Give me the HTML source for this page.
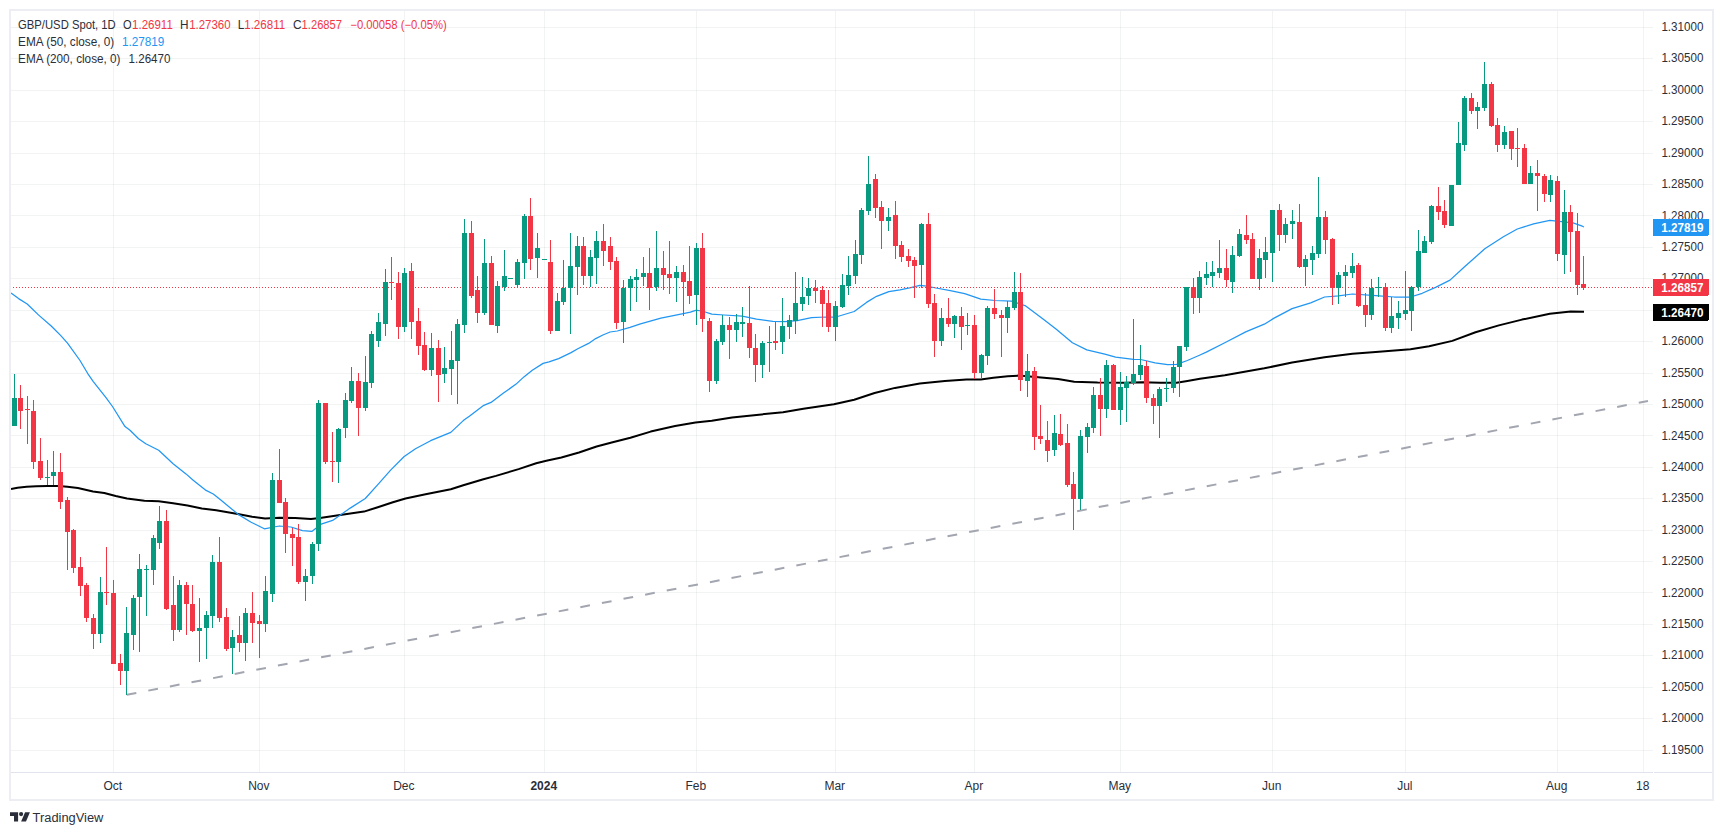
<!DOCTYPE html><html><head><meta charset="utf-8"><style>html,body{margin:0;padding:0;background:#fff;}svg{display:block}text{font-family:"Liberation Sans",sans-serif;}</style></head><body>
<svg width="1723" height="835" viewBox="0 0 1723 835" shape-rendering="crispEdges">
<rect x="0" y="0" width="1723" height="835" fill="#ffffff"/>
<rect x="11" y="27" width="1642" height="1" fill="rgba(42,46,57,0.06)"/>
<rect x="11" y="58" width="1642" height="1" fill="rgba(42,46,57,0.06)"/>
<rect x="11" y="90" width="1642" height="1" fill="rgba(42,46,57,0.06)"/>
<rect x="11" y="121" width="1642" height="1" fill="rgba(42,46,57,0.06)"/>
<rect x="11" y="153" width="1642" height="1" fill="rgba(42,46,57,0.06)"/>
<rect x="11" y="184" width="1642" height="1" fill="rgba(42,46,57,0.06)"/>
<rect x="11" y="215" width="1642" height="1" fill="rgba(42,46,57,0.06)"/>
<rect x="11" y="247" width="1642" height="1" fill="rgba(42,46,57,0.06)"/>
<rect x="11" y="278" width="1642" height="1" fill="rgba(42,46,57,0.06)"/>
<rect x="11" y="310" width="1642" height="1" fill="rgba(42,46,57,0.06)"/>
<rect x="11" y="341" width="1642" height="1" fill="rgba(42,46,57,0.06)"/>
<rect x="11" y="373" width="1642" height="1" fill="rgba(42,46,57,0.06)"/>
<rect x="11" y="404" width="1642" height="1" fill="rgba(42,46,57,0.06)"/>
<rect x="11" y="435" width="1642" height="1" fill="rgba(42,46,57,0.06)"/>
<rect x="11" y="467" width="1642" height="1" fill="rgba(42,46,57,0.06)"/>
<rect x="11" y="498" width="1642" height="1" fill="rgba(42,46,57,0.06)"/>
<rect x="11" y="530" width="1642" height="1" fill="rgba(42,46,57,0.06)"/>
<rect x="11" y="561" width="1642" height="1" fill="rgba(42,46,57,0.06)"/>
<rect x="11" y="592" width="1642" height="1" fill="rgba(42,46,57,0.06)"/>
<rect x="11" y="624" width="1642" height="1" fill="rgba(42,46,57,0.06)"/>
<rect x="11" y="655" width="1642" height="1" fill="rgba(42,46,57,0.06)"/>
<rect x="11" y="687" width="1642" height="1" fill="rgba(42,46,57,0.06)"/>
<rect x="11" y="718" width="1642" height="1" fill="rgba(42,46,57,0.06)"/>
<rect x="11" y="750" width="1642" height="1" fill="rgba(42,46,57,0.06)"/>
<rect x="113" y="11" width="1" height="761" fill="rgba(42,46,57,0.06)"/>
<rect x="259" y="11" width="1" height="761" fill="rgba(42,46,57,0.06)"/>
<rect x="404" y="11" width="1" height="761" fill="rgba(42,46,57,0.06)"/>
<rect x="544" y="11" width="1" height="761" fill="rgba(42,46,57,0.06)"/>
<rect x="696" y="11" width="1" height="761" fill="rgba(42,46,57,0.06)"/>
<rect x="835" y="11" width="1" height="761" fill="rgba(42,46,57,0.06)"/>
<rect x="974" y="11" width="1" height="761" fill="rgba(42,46,57,0.06)"/>
<rect x="1120" y="11" width="1" height="761" fill="rgba(42,46,57,0.06)"/>
<rect x="1272" y="11" width="1" height="761" fill="rgba(42,46,57,0.06)"/>
<rect x="1405" y="11" width="1" height="761" fill="rgba(42,46,57,0.06)"/>
<rect x="1557" y="11" width="1" height="761" fill="rgba(42,46,57,0.06)"/>
<rect x="1643" y="11" width="1" height="761" fill="rgba(42,46,57,0.06)"/>
<rect x="10" y="10" width="1703" height="790" fill="none" stroke="#eceef3" stroke-width="2"/>
<rect x="11" y="772" width="1642" height="1" fill="#e0e3eb"/>
<rect x="1654" y="772" width="58" height="1" fill="#e0e3eb"/>
<defs><clipPath id="pc"><rect x="11" y="11" width="1642" height="761"/></clipPath></defs>
<g clip-path="url(#pc)">
<line x1="126.7" y1="694.8" x2="1648.0" y2="401.0" stroke="#a3a6b0" stroke-width="2" stroke-dasharray="9.8 12.2" shape-rendering="auto"/>
<polyline points="11.0,488.9 17.5,487.7 26.6,486.8 36.4,486.2 47.7,486.0 58.3,486.1 67.4,486.8 77.9,488.1 93.0,491.5 104.3,493.0 115.7,496.0 127.0,498.5 144.4,500.7 158.7,501.2 173.1,503.3 187.5,505.5 201.8,508.4 216.2,510.2 237.8,514.1 252.1,516.7 265.1,518.4 279.4,517.7 295.2,518.1 311.0,519.1 320.0,517.9 340.1,514.9 364.0,511.6 377.8,507.3 392.9,502.3 405.5,498.5 425.6,494.3 450.8,489.2 463.3,485.2 483.4,479.2 496.0,475.9 518.6,469.1 536.2,463.3 546.3,460.8 561.4,457.5 579.0,452.5 596.6,446.5 611.7,442.5 630.4,437.7 650.7,431.6 675.1,426.1 695.5,422.5 711.8,420.8 732.1,417.4 756.5,414.9 783.0,412.3 803.4,408.8 833.9,404.2 854.2,399.7 874.6,393.0 895.0,387.9 919.8,383.5 944.9,381.0 966.5,379.6 980.8,379.6 993.4,377.8 1007.8,376.3 1018.6,375.6 1038.3,377.2 1058.1,379.0 1074.2,381.7 1097.6,382.6 1124.5,382.8 1142.5,382.3 1160.5,382.8 1176.6,382.8 1187.4,381.0 1200.0,378.7 1224.8,375.3 1264.3,368.3 1292.1,362.5 1324.6,357.2 1352.5,353.7 1375.7,352.1 1410.5,349.3 1429.1,346.3 1452.3,340.9 1475.5,332.3 1498.8,325.4 1522.0,319.6 1549.8,313.8 1570.7,311.4 1584.0,311.8" fill="none" stroke="#000" stroke-width="2" stroke-linejoin="round" shape-rendering="auto"/>
<polyline points="11.0,293.0 18.6,298.6 27.2,304.0 38.7,315.1 51.2,326.0 60.8,335.6 67.5,343.2 80.0,360.5 87.6,373.3 93.3,381.6 105.8,397.3 112.5,406.5 125.0,426.6 130.0,430.3 138.6,438.7 145.8,443.7 158.7,450.2 173.1,463.8 186.0,473.9 193.2,480.3 206.1,490.4 213.3,494.0 220.5,499.7 237.8,514.1 250.7,522.0 264.3,528.8 279.4,526.0 290.9,527.0 302.4,530.6 311.8,531.4 321.1,524.2 332.6,520.4 350.2,508.1 365.3,498.5 377.8,484.7 390.4,470.4 404.2,456.5 415.5,448.7 430.6,440.7 450.8,432.4 463.3,420.6 470.0,415.8 483.8,405.3 491.0,402.4 503.5,393.1 516.1,384.1 523.9,376.9 532.3,370.3 543.1,363.4 549.0,361.9 558.6,358.6 570.6,352.9 577.8,348.7 588.6,343.4 595.7,338.6 602.9,335.0 610.1,332.0 617.3,331.0 630.0,327.4 640.5,323.8 660.9,318.1 683.3,313.6 690.4,312.2 696.5,310.1 703.6,311.5 711.8,314.2 724.0,315.0 742.3,316.2 756.5,319.1 772.8,321.3 785.0,321.7 797.3,320.7 811.5,317.7 825.8,317.0 835.9,317.0 854.2,311.5 866.5,302.4 876.6,296.3 888.8,291.6 900.0,289.8 910.8,287.6 919.8,285.3 926.9,286.2 935.9,288.0 950.3,290.7 964.7,293.7 980.8,299.1 995.2,300.5 1011.4,301.1 1025.7,305.9 1043.7,319.4 1056.3,329.3 1072.4,342.7 1086.8,349.9 1104.8,354.1 1115.6,357.1 1133.5,359.3 1140.7,359.5 1155.1,362.9 1167.6,364.7 1176.6,364.3 1187.4,360.5 1200.0,355.0 1206.3,352.1 1224.8,342.8 1245.7,331.9 1264.3,324.2 1273.6,318.4 1292.1,308.6 1310.7,302.8 1324.6,297.0 1338.6,295.9 1352.5,294.0 1375.7,295.6 1394.3,297.0 1410.5,297.0 1422.2,293.3 1436.1,287.1 1450.0,280.1 1464.0,267.3 1484.8,248.8 1503.4,236.7 1517.3,229.0 1533.6,223.9 1549.8,220.4 1561.4,221.6 1573.0,222.8 1582.3,226.2 1584.0,227.0" fill="none" stroke="#2196f3" stroke-width="1.25" stroke-linejoin="round" shape-rendering="auto"/>
<line x1="10" y1="287.5" x2="1653" y2="287.5" stroke="#f23645" stroke-width="1" stroke-dasharray="1 2"/>
<rect x="14" y="374" width="1" height="52" fill="#089981"/>
<rect x="12" y="398" width="5" height="28" fill="#089981"/>
<rect x="20" y="385" width="1" height="44" fill="#f23645"/>
<rect x="18" y="398" width="5" height="13" fill="#f23645"/>
<rect x="27" y="396" width="1" height="48" fill="#f23645"/>
<rect x="25" y="409" width="5" height="1" fill="#f23645"/>
<rect x="33" y="400" width="1" height="69" fill="#f23645"/>
<rect x="31" y="411" width="5" height="51" fill="#f23645"/>
<rect x="40" y="438" width="1" height="42" fill="#f23645"/>
<rect x="38" y="461" width="5" height="17" fill="#f23645"/>
<rect x="47" y="460" width="1" height="25" fill="#089981"/>
<rect x="45" y="477" width="5" height="1" fill="#089981"/>
<rect x="53" y="451" width="1" height="34" fill="#089981"/>
<rect x="51" y="472" width="5" height="4" fill="#089981"/>
<rect x="60" y="453" width="1" height="56" fill="#f23645"/>
<rect x="58" y="472" width="5" height="30" fill="#f23645"/>
<rect x="67" y="497" width="1" height="73" fill="#f23645"/>
<rect x="65" y="500" width="5" height="32" fill="#f23645"/>
<rect x="73" y="529" width="1" height="44" fill="#f23645"/>
<rect x="71" y="530" width="5" height="38" fill="#f23645"/>
<rect x="80" y="557" width="1" height="39" fill="#f23645"/>
<rect x="78" y="567" width="5" height="19" fill="#f23645"/>
<rect x="86" y="583" width="1" height="39" fill="#f23645"/>
<rect x="84" y="585" width="5" height="33" fill="#f23645"/>
<rect x="93" y="614" width="1" height="35" fill="#f23645"/>
<rect x="91" y="618" width="5" height="16" fill="#f23645"/>
<rect x="100" y="577" width="1" height="66" fill="#089981"/>
<rect x="98" y="592" width="5" height="42" fill="#089981"/>
<rect x="106" y="547" width="1" height="58" fill="#f23645"/>
<rect x="104" y="592" width="5" height="1" fill="#f23645"/>
<rect x="113" y="580" width="1" height="84" fill="#f23645"/>
<rect x="111" y="593" width="5" height="71" fill="#f23645"/>
<rect x="120" y="654" width="1" height="31" fill="#f23645"/>
<rect x="118" y="663" width="5" height="8" fill="#f23645"/>
<rect x="126" y="607" width="1" height="88" fill="#089981"/>
<rect x="124" y="633" width="5" height="38" fill="#089981"/>
<rect x="133" y="595" width="1" height="55" fill="#089981"/>
<rect x="131" y="598" width="5" height="37" fill="#089981"/>
<rect x="139" y="554" width="1" height="98" fill="#089981"/>
<rect x="137" y="569" width="5" height="28" fill="#089981"/>
<rect x="146" y="565" width="1" height="51" fill="#089981"/>
<rect x="144" y="569" width="5" height="1" fill="#089981"/>
<rect x="153" y="535" width="1" height="50" fill="#089981"/>
<rect x="151" y="538" width="5" height="32" fill="#089981"/>
<rect x="159" y="506" width="1" height="43" fill="#089981"/>
<rect x="157" y="521" width="5" height="22" fill="#089981"/>
<rect x="166" y="510" width="1" height="100" fill="#f23645"/>
<rect x="164" y="521" width="5" height="88" fill="#f23645"/>
<rect x="173" y="576" width="1" height="65" fill="#f23645"/>
<rect x="171" y="605" width="5" height="25" fill="#f23645"/>
<rect x="179" y="580" width="1" height="52" fill="#089981"/>
<rect x="177" y="585" width="5" height="45" fill="#089981"/>
<rect x="186" y="582" width="1" height="53" fill="#f23645"/>
<rect x="184" y="585" width="5" height="19" fill="#f23645"/>
<rect x="192" y="585" width="1" height="47" fill="#f23645"/>
<rect x="190" y="604" width="5" height="27" fill="#f23645"/>
<rect x="199" y="598" width="1" height="64" fill="#089981"/>
<rect x="197" y="628" width="5" height="3" fill="#089981"/>
<rect x="206" y="611" width="1" height="48" fill="#089981"/>
<rect x="204" y="615" width="5" height="13" fill="#089981"/>
<rect x="212" y="555" width="1" height="73" fill="#089981"/>
<rect x="210" y="562" width="5" height="54" fill="#089981"/>
<rect x="219" y="537" width="1" height="85" fill="#f23645"/>
<rect x="217" y="562" width="5" height="56" fill="#f23645"/>
<rect x="226" y="608" width="1" height="43" fill="#f23645"/>
<rect x="224" y="617" width="5" height="32" fill="#f23645"/>
<rect x="232" y="630" width="1" height="44" fill="#089981"/>
<rect x="230" y="637" width="5" height="11" fill="#089981"/>
<rect x="239" y="616" width="1" height="36" fill="#f23645"/>
<rect x="237" y="635" width="5" height="8" fill="#f23645"/>
<rect x="245" y="608" width="1" height="53" fill="#089981"/>
<rect x="243" y="613" width="5" height="30" fill="#089981"/>
<rect x="252" y="592" width="1" height="51" fill="#f23645"/>
<rect x="250" y="613" width="5" height="10" fill="#f23645"/>
<rect x="259" y="615" width="1" height="43" fill="#f23645"/>
<rect x="257" y="621" width="5" height="3" fill="#f23645"/>
<rect x="265" y="576" width="1" height="56" fill="#089981"/>
<rect x="263" y="591" width="5" height="33" fill="#089981"/>
<rect x="272" y="473" width="1" height="129" fill="#089981"/>
<rect x="270" y="480" width="5" height="114" fill="#089981"/>
<rect x="279" y="449" width="1" height="54" fill="#f23645"/>
<rect x="277" y="480" width="5" height="23" fill="#f23645"/>
<rect x="285" y="498" width="1" height="55" fill="#f23645"/>
<rect x="283" y="502" width="5" height="32" fill="#f23645"/>
<rect x="292" y="528" width="1" height="38" fill="#f23645"/>
<rect x="290" y="534" width="5" height="4" fill="#f23645"/>
<rect x="298" y="524" width="1" height="60" fill="#f23645"/>
<rect x="296" y="537" width="5" height="45" fill="#f23645"/>
<rect x="305" y="569" width="1" height="32" fill="#089981"/>
<rect x="303" y="576" width="5" height="6" fill="#089981"/>
<rect x="312" y="542" width="1" height="42" fill="#089981"/>
<rect x="310" y="544" width="5" height="32" fill="#089981"/>
<rect x="318" y="400" width="1" height="151" fill="#089981"/>
<rect x="316" y="403" width="5" height="141" fill="#089981"/>
<rect x="325" y="403" width="1" height="61" fill="#f23645"/>
<rect x="323" y="403" width="5" height="59" fill="#f23645"/>
<rect x="332" y="432" width="1" height="50" fill="#f23645"/>
<rect x="330" y="461" width="5" height="1" fill="#f23645"/>
<rect x="338" y="428" width="1" height="55" fill="#089981"/>
<rect x="336" y="429" width="5" height="33" fill="#089981"/>
<rect x="345" y="393" width="1" height="45" fill="#089981"/>
<rect x="343" y="400" width="5" height="28" fill="#089981"/>
<rect x="351" y="367" width="1" height="36" fill="#089981"/>
<rect x="349" y="381" width="5" height="20" fill="#089981"/>
<rect x="358" y="373" width="1" height="63" fill="#f23645"/>
<rect x="356" y="381" width="5" height="27" fill="#f23645"/>
<rect x="365" y="356" width="1" height="55" fill="#089981"/>
<rect x="363" y="382" width="5" height="26" fill="#089981"/>
<rect x="371" y="331" width="1" height="57" fill="#089981"/>
<rect x="369" y="334" width="5" height="49" fill="#089981"/>
<rect x="378" y="313" width="1" height="34" fill="#089981"/>
<rect x="376" y="322" width="5" height="19" fill="#089981"/>
<rect x="385" y="269" width="1" height="67" fill="#089981"/>
<rect x="383" y="282" width="5" height="42" fill="#089981"/>
<rect x="391" y="257" width="1" height="43" fill="#f23645"/>
<rect x="389" y="282" width="5" height="1" fill="#f23645"/>
<rect x="398" y="272" width="1" height="67" fill="#f23645"/>
<rect x="396" y="283" width="5" height="44" fill="#f23645"/>
<rect x="404" y="268" width="1" height="64" fill="#089981"/>
<rect x="402" y="273" width="5" height="54" fill="#089981"/>
<rect x="411" y="263" width="1" height="76" fill="#f23645"/>
<rect x="409" y="271" width="5" height="51" fill="#f23645"/>
<rect x="418" y="308" width="1" height="47" fill="#f23645"/>
<rect x="416" y="321" width="5" height="25" fill="#f23645"/>
<rect x="424" y="332" width="1" height="39" fill="#f23645"/>
<rect x="422" y="345" width="5" height="25" fill="#f23645"/>
<rect x="431" y="333" width="1" height="43" fill="#089981"/>
<rect x="429" y="348" width="5" height="22" fill="#089981"/>
<rect x="438" y="340" width="1" height="62" fill="#f23645"/>
<rect x="436" y="348" width="5" height="27" fill="#f23645"/>
<rect x="444" y="347" width="1" height="36" fill="#089981"/>
<rect x="442" y="368" width="5" height="6" fill="#089981"/>
<rect x="451" y="331" width="1" height="64" fill="#089981"/>
<rect x="449" y="360" width="5" height="9" fill="#089981"/>
<rect x="457" y="319" width="1" height="85" fill="#089981"/>
<rect x="455" y="324" width="5" height="37" fill="#089981"/>
<rect x="464" y="219" width="1" height="114" fill="#089981"/>
<rect x="462" y="233" width="5" height="92" fill="#089981"/>
<rect x="471" y="221" width="1" height="77" fill="#f23645"/>
<rect x="469" y="233" width="5" height="63" fill="#f23645"/>
<rect x="477" y="276" width="1" height="47" fill="#f23645"/>
<rect x="475" y="290" width="5" height="23" fill="#f23645"/>
<rect x="484" y="239" width="1" height="76" fill="#089981"/>
<rect x="482" y="263" width="5" height="50" fill="#089981"/>
<rect x="491" y="256" width="1" height="69" fill="#f23645"/>
<rect x="489" y="263" width="5" height="62" fill="#f23645"/>
<rect x="497" y="281" width="1" height="52" fill="#089981"/>
<rect x="495" y="286" width="5" height="40" fill="#089981"/>
<rect x="504" y="250" width="1" height="41" fill="#089981"/>
<rect x="502" y="276" width="5" height="11" fill="#089981"/>
<rect x="510" y="278" width="1" height="1" fill="#089981"/>
<rect x="508" y="278" width="5" height="1" fill="#089981"/>
<rect x="517" y="259" width="1" height="29" fill="#089981"/>
<rect x="515" y="262" width="5" height="23" fill="#089981"/>
<rect x="524" y="214" width="1" height="65" fill="#089981"/>
<rect x="522" y="216" width="5" height="47" fill="#089981"/>
<rect x="530" y="198" width="1" height="72" fill="#f23645"/>
<rect x="528" y="216" width="5" height="43" fill="#f23645"/>
<rect x="537" y="233" width="1" height="45" fill="#089981"/>
<rect x="535" y="248" width="5" height="10" fill="#089981"/>
<rect x="544" y="259" width="1" height="1" fill="#089981"/>
<rect x="542" y="259" width="5" height="1" fill="#089981"/>
<rect x="550" y="240" width="1" height="94" fill="#f23645"/>
<rect x="548" y="262" width="5" height="69" fill="#f23645"/>
<rect x="557" y="293" width="1" height="38" fill="#089981"/>
<rect x="555" y="301" width="5" height="30" fill="#089981"/>
<rect x="563" y="260" width="1" height="45" fill="#089981"/>
<rect x="561" y="288" width="5" height="14" fill="#089981"/>
<rect x="570" y="233" width="1" height="101" fill="#089981"/>
<rect x="568" y="266" width="5" height="22" fill="#089981"/>
<rect x="577" y="236" width="1" height="59" fill="#089981"/>
<rect x="575" y="246" width="5" height="21" fill="#089981"/>
<rect x="583" y="237" width="1" height="48" fill="#f23645"/>
<rect x="581" y="246" width="5" height="30" fill="#f23645"/>
<rect x="590" y="250" width="1" height="37" fill="#089981"/>
<rect x="588" y="257" width="5" height="19" fill="#089981"/>
<rect x="596" y="231" width="1" height="53" fill="#089981"/>
<rect x="594" y="241" width="5" height="17" fill="#089981"/>
<rect x="603" y="224" width="1" height="42" fill="#f23645"/>
<rect x="601" y="241" width="5" height="10" fill="#f23645"/>
<rect x="610" y="237" width="1" height="33" fill="#f23645"/>
<rect x="608" y="246" width="5" height="16" fill="#f23645"/>
<rect x="616" y="257" width="1" height="72" fill="#f23645"/>
<rect x="614" y="261" width="5" height="62" fill="#f23645"/>
<rect x="623" y="280" width="1" height="63" fill="#089981"/>
<rect x="621" y="288" width="5" height="34" fill="#089981"/>
<rect x="630" y="276" width="1" height="35" fill="#089981"/>
<rect x="628" y="279" width="5" height="9" fill="#089981"/>
<rect x="636" y="269" width="1" height="33" fill="#089981"/>
<rect x="634" y="277" width="5" height="3" fill="#089981"/>
<rect x="643" y="257" width="1" height="29" fill="#089981"/>
<rect x="641" y="273" width="5" height="4" fill="#089981"/>
<rect x="649" y="248" width="1" height="62" fill="#f23645"/>
<rect x="647" y="273" width="5" height="15" fill="#f23645"/>
<rect x="656" y="231" width="1" height="60" fill="#089981"/>
<rect x="654" y="268" width="5" height="19" fill="#089981"/>
<rect x="663" y="251" width="1" height="39" fill="#f23645"/>
<rect x="661" y="268" width="5" height="7" fill="#f23645"/>
<rect x="669" y="241" width="1" height="53" fill="#f23645"/>
<rect x="667" y="274" width="5" height="4" fill="#f23645"/>
<rect x="676" y="266" width="1" height="36" fill="#089981"/>
<rect x="674" y="272" width="5" height="6" fill="#089981"/>
<rect x="683" y="265" width="1" height="51" fill="#f23645"/>
<rect x="681" y="272" width="5" height="10" fill="#f23645"/>
<rect x="689" y="246" width="1" height="58" fill="#f23645"/>
<rect x="687" y="281" width="5" height="15" fill="#f23645"/>
<rect x="696" y="243" width="1" height="82" fill="#089981"/>
<rect x="694" y="248" width="5" height="47" fill="#089981"/>
<rect x="702" y="233" width="1" height="99" fill="#f23645"/>
<rect x="700" y="248" width="5" height="71" fill="#f23645"/>
<rect x="709" y="318" width="1" height="74" fill="#f23645"/>
<rect x="707" y="321" width="5" height="60" fill="#f23645"/>
<rect x="716" y="339" width="1" height="45" fill="#089981"/>
<rect x="714" y="341" width="5" height="40" fill="#089981"/>
<rect x="722" y="315" width="1" height="30" fill="#089981"/>
<rect x="720" y="325" width="5" height="17" fill="#089981"/>
<rect x="729" y="317" width="1" height="42" fill="#f23645"/>
<rect x="727" y="325" width="5" height="5" fill="#f23645"/>
<rect x="736" y="314" width="1" height="28" fill="#089981"/>
<rect x="734" y="322" width="5" height="8" fill="#089981"/>
<rect x="742" y="307" width="1" height="30" fill="#089981"/>
<rect x="740" y="322" width="5" height="2" fill="#089981"/>
<rect x="749" y="286" width="1" height="72" fill="#f23645"/>
<rect x="747" y="323" width="5" height="25" fill="#f23645"/>
<rect x="755" y="334" width="1" height="48" fill="#f23645"/>
<rect x="753" y="348" width="5" height="17" fill="#f23645"/>
<rect x="762" y="341" width="1" height="37" fill="#089981"/>
<rect x="760" y="343" width="5" height="22" fill="#089981"/>
<rect x="769" y="326" width="1" height="46" fill="#089981"/>
<rect x="767" y="342" width="5" height="1" fill="#089981"/>
<rect x="775" y="322" width="1" height="28" fill="#f23645"/>
<rect x="773" y="341" width="5" height="2" fill="#f23645"/>
<rect x="782" y="298" width="1" height="56" fill="#089981"/>
<rect x="780" y="326" width="5" height="16" fill="#089981"/>
<rect x="789" y="315" width="1" height="24" fill="#089981"/>
<rect x="787" y="320" width="5" height="7" fill="#089981"/>
<rect x="795" y="272" width="1" height="62" fill="#089981"/>
<rect x="793" y="303" width="5" height="18" fill="#089981"/>
<rect x="802" y="277" width="1" height="34" fill="#089981"/>
<rect x="800" y="297" width="5" height="7" fill="#089981"/>
<rect x="808" y="278" width="1" height="27" fill="#089981"/>
<rect x="806" y="288" width="5" height="8" fill="#089981"/>
<rect x="815" y="280" width="1" height="23" fill="#f23645"/>
<rect x="813" y="288" width="5" height="3" fill="#f23645"/>
<rect x="822" y="286" width="1" height="41" fill="#f23645"/>
<rect x="820" y="290" width="5" height="14" fill="#f23645"/>
<rect x="828" y="290" width="1" height="42" fill="#f23645"/>
<rect x="826" y="303" width="5" height="24" fill="#f23645"/>
<rect x="835" y="301" width="1" height="40" fill="#089981"/>
<rect x="833" y="306" width="5" height="21" fill="#089981"/>
<rect x="842" y="274" width="1" height="34" fill="#089981"/>
<rect x="840" y="285" width="5" height="22" fill="#089981"/>
<rect x="848" y="256" width="1" height="39" fill="#089981"/>
<rect x="846" y="275" width="5" height="11" fill="#089981"/>
<rect x="855" y="240" width="1" height="44" fill="#089981"/>
<rect x="853" y="254" width="5" height="22" fill="#089981"/>
<rect x="861" y="208" width="1" height="56" fill="#089981"/>
<rect x="859" y="210" width="5" height="45" fill="#089981"/>
<rect x="868" y="156" width="1" height="59" fill="#089981"/>
<rect x="866" y="184" width="5" height="27" fill="#089981"/>
<rect x="875" y="174" width="1" height="44" fill="#f23645"/>
<rect x="873" y="179" width="5" height="29" fill="#f23645"/>
<rect x="881" y="201" width="1" height="48" fill="#f23645"/>
<rect x="879" y="207" width="5" height="14" fill="#f23645"/>
<rect x="888" y="208" width="1" height="23" fill="#089981"/>
<rect x="886" y="217" width="5" height="4" fill="#089981"/>
<rect x="895" y="201" width="1" height="58" fill="#f23645"/>
<rect x="893" y="215" width="5" height="31" fill="#f23645"/>
<rect x="901" y="241" width="1" height="21" fill="#f23645"/>
<rect x="899" y="245" width="5" height="12" fill="#f23645"/>
<rect x="908" y="249" width="1" height="18" fill="#f23645"/>
<rect x="906" y="256" width="5" height="5" fill="#f23645"/>
<rect x="914" y="257" width="1" height="41" fill="#f23645"/>
<rect x="912" y="260" width="5" height="6" fill="#f23645"/>
<rect x="921" y="223" width="1" height="65" fill="#089981"/>
<rect x="919" y="224" width="5" height="41" fill="#089981"/>
<rect x="928" y="213" width="1" height="95" fill="#f23645"/>
<rect x="926" y="224" width="5" height="80" fill="#f23645"/>
<rect x="934" y="294" width="1" height="63" fill="#f23645"/>
<rect x="932" y="303" width="5" height="38" fill="#f23645"/>
<rect x="941" y="308" width="1" height="38" fill="#089981"/>
<rect x="939" y="318" width="5" height="23" fill="#089981"/>
<rect x="948" y="298" width="1" height="29" fill="#f23645"/>
<rect x="946" y="318" width="5" height="6" fill="#f23645"/>
<rect x="954" y="315" width="1" height="23" fill="#089981"/>
<rect x="952" y="316" width="5" height="8" fill="#089981"/>
<rect x="961" y="307" width="1" height="43" fill="#f23645"/>
<rect x="959" y="316" width="5" height="11" fill="#f23645"/>
<rect x="967" y="313" width="1" height="22" fill="#089981"/>
<rect x="965" y="325" width="5" height="1" fill="#089981"/>
<rect x="974" y="315" width="1" height="64" fill="#f23645"/>
<rect x="972" y="325" width="5" height="48" fill="#f23645"/>
<rect x="981" y="354" width="1" height="25" fill="#089981"/>
<rect x="979" y="355" width="5" height="18" fill="#089981"/>
<rect x="987" y="306" width="1" height="59" fill="#089981"/>
<rect x="985" y="308" width="5" height="48" fill="#089981"/>
<rect x="994" y="289" width="1" height="30" fill="#f23645"/>
<rect x="992" y="308" width="5" height="6" fill="#f23645"/>
<rect x="1001" y="310" width="1" height="47" fill="#f23645"/>
<rect x="999" y="315" width="5" height="3" fill="#f23645"/>
<rect x="1007" y="301" width="1" height="32" fill="#089981"/>
<rect x="1005" y="307" width="5" height="11" fill="#089981"/>
<rect x="1014" y="272" width="1" height="38" fill="#089981"/>
<rect x="1012" y="292" width="5" height="16" fill="#089981"/>
<rect x="1020" y="273" width="1" height="118" fill="#f23645"/>
<rect x="1018" y="292" width="5" height="88" fill="#f23645"/>
<rect x="1027" y="354" width="1" height="43" fill="#089981"/>
<rect x="1025" y="371" width="5" height="10" fill="#089981"/>
<rect x="1034" y="367" width="1" height="83" fill="#f23645"/>
<rect x="1032" y="371" width="5" height="66" fill="#f23645"/>
<rect x="1040" y="405" width="1" height="39" fill="#f23645"/>
<rect x="1038" y="436" width="5" height="3" fill="#f23645"/>
<rect x="1047" y="421" width="1" height="41" fill="#f23645"/>
<rect x="1045" y="440" width="5" height="11" fill="#f23645"/>
<rect x="1054" y="415" width="1" height="41" fill="#089981"/>
<rect x="1052" y="433" width="5" height="17" fill="#089981"/>
<rect x="1060" y="414" width="1" height="32" fill="#f23645"/>
<rect x="1058" y="434" width="5" height="11" fill="#f23645"/>
<rect x="1067" y="424" width="1" height="63" fill="#f23645"/>
<rect x="1065" y="443" width="5" height="42" fill="#f23645"/>
<rect x="1073" y="472" width="1" height="58" fill="#f23645"/>
<rect x="1071" y="484" width="5" height="15" fill="#f23645"/>
<rect x="1080" y="430" width="1" height="80" fill="#089981"/>
<rect x="1078" y="436" width="5" height="63" fill="#089981"/>
<rect x="1087" y="423" width="1" height="30" fill="#089981"/>
<rect x="1085" y="427" width="5" height="10" fill="#089981"/>
<rect x="1093" y="387" width="1" height="46" fill="#089981"/>
<rect x="1091" y="395" width="5" height="33" fill="#089981"/>
<rect x="1100" y="378" width="1" height="58" fill="#f23645"/>
<rect x="1098" y="395" width="5" height="14" fill="#f23645"/>
<rect x="1106" y="360" width="1" height="58" fill="#089981"/>
<rect x="1104" y="365" width="5" height="44" fill="#089981"/>
<rect x="1113" y="364" width="1" height="46" fill="#f23645"/>
<rect x="1111" y="365" width="5" height="45" fill="#f23645"/>
<rect x="1120" y="372" width="1" height="53" fill="#089981"/>
<rect x="1118" y="387" width="5" height="23" fill="#089981"/>
<rect x="1126" y="376" width="1" height="46" fill="#089981"/>
<rect x="1124" y="382" width="5" height="6" fill="#089981"/>
<rect x="1133" y="319" width="1" height="66" fill="#089981"/>
<rect x="1131" y="374" width="5" height="9" fill="#089981"/>
<rect x="1140" y="345" width="1" height="35" fill="#089981"/>
<rect x="1138" y="365" width="5" height="10" fill="#089981"/>
<rect x="1146" y="361" width="1" height="42" fill="#f23645"/>
<rect x="1144" y="366" width="5" height="32" fill="#f23645"/>
<rect x="1153" y="394" width="1" height="30" fill="#f23645"/>
<rect x="1151" y="398" width="5" height="8" fill="#f23645"/>
<rect x="1159" y="387" width="1" height="51" fill="#089981"/>
<rect x="1157" y="389" width="5" height="17" fill="#089981"/>
<rect x="1166" y="378" width="1" height="24" fill="#089981"/>
<rect x="1164" y="388" width="5" height="1" fill="#089981"/>
<rect x="1173" y="361" width="1" height="32" fill="#089981"/>
<rect x="1171" y="367" width="5" height="21" fill="#089981"/>
<rect x="1179" y="346" width="1" height="51" fill="#089981"/>
<rect x="1177" y="346" width="5" height="21" fill="#089981"/>
<rect x="1186" y="287" width="1" height="64" fill="#089981"/>
<rect x="1184" y="287" width="5" height="60" fill="#089981"/>
<rect x="1193" y="278" width="1" height="36" fill="#f23645"/>
<rect x="1191" y="287" width="5" height="11" fill="#f23645"/>
<rect x="1199" y="271" width="1" height="42" fill="#089981"/>
<rect x="1197" y="277" width="5" height="21" fill="#089981"/>
<rect x="1206" y="262" width="1" height="23" fill="#089981"/>
<rect x="1204" y="274" width="5" height="4" fill="#089981"/>
<rect x="1212" y="261" width="1" height="26" fill="#089981"/>
<rect x="1210" y="272" width="5" height="4" fill="#089981"/>
<rect x="1219" y="240" width="1" height="38" fill="#089981"/>
<rect x="1217" y="268" width="5" height="5" fill="#089981"/>
<rect x="1226" y="249" width="1" height="38" fill="#f23645"/>
<rect x="1224" y="268" width="5" height="12" fill="#f23645"/>
<rect x="1232" y="246" width="1" height="47" fill="#089981"/>
<rect x="1230" y="255" width="5" height="27" fill="#089981"/>
<rect x="1239" y="229" width="1" height="28" fill="#089981"/>
<rect x="1237" y="234" width="5" height="22" fill="#089981"/>
<rect x="1246" y="215" width="1" height="29" fill="#f23645"/>
<rect x="1244" y="235" width="5" height="5" fill="#f23645"/>
<rect x="1252" y="233" width="1" height="46" fill="#f23645"/>
<rect x="1250" y="239" width="5" height="40" fill="#f23645"/>
<rect x="1259" y="249" width="1" height="41" fill="#089981"/>
<rect x="1257" y="258" width="5" height="21" fill="#089981"/>
<rect x="1265" y="237" width="1" height="41" fill="#089981"/>
<rect x="1263" y="252" width="5" height="8" fill="#089981"/>
<rect x="1272" y="210" width="1" height="72" fill="#089981"/>
<rect x="1270" y="210" width="5" height="43" fill="#089981"/>
<rect x="1279" y="204" width="1" height="47" fill="#f23645"/>
<rect x="1277" y="210" width="5" height="25" fill="#f23645"/>
<rect x="1285" y="218" width="1" height="25" fill="#089981"/>
<rect x="1283" y="224" width="5" height="11" fill="#089981"/>
<rect x="1292" y="210" width="1" height="29" fill="#089981"/>
<rect x="1290" y="221" width="5" height="3" fill="#089981"/>
<rect x="1299" y="204" width="1" height="64" fill="#f23645"/>
<rect x="1297" y="222" width="5" height="45" fill="#f23645"/>
<rect x="1305" y="255" width="1" height="31" fill="#089981"/>
<rect x="1303" y="259" width="5" height="8" fill="#089981"/>
<rect x="1312" y="246" width="1" height="29" fill="#089981"/>
<rect x="1310" y="253" width="5" height="7" fill="#089981"/>
<rect x="1318" y="177" width="1" height="81" fill="#089981"/>
<rect x="1316" y="217" width="5" height="37" fill="#089981"/>
<rect x="1325" y="211" width="1" height="43" fill="#f23645"/>
<rect x="1323" y="217" width="5" height="23" fill="#f23645"/>
<rect x="1332" y="238" width="1" height="67" fill="#f23645"/>
<rect x="1330" y="239" width="5" height="49" fill="#f23645"/>
<rect x="1338" y="272" width="1" height="32" fill="#089981"/>
<rect x="1336" y="275" width="5" height="13" fill="#089981"/>
<rect x="1345" y="265" width="1" height="32" fill="#089981"/>
<rect x="1343" y="272" width="5" height="4" fill="#089981"/>
<rect x="1352" y="253" width="1" height="25" fill="#089981"/>
<rect x="1350" y="266" width="5" height="7" fill="#089981"/>
<rect x="1358" y="263" width="1" height="44" fill="#f23645"/>
<rect x="1356" y="265" width="5" height="41" fill="#f23645"/>
<rect x="1365" y="293" width="1" height="34" fill="#f23645"/>
<rect x="1363" y="305" width="5" height="10" fill="#f23645"/>
<rect x="1371" y="279" width="1" height="41" fill="#089981"/>
<rect x="1369" y="288" width="5" height="27" fill="#089981"/>
<rect x="1378" y="277" width="1" height="20" fill="#089981"/>
<rect x="1376" y="287" width="5" height="1" fill="#089981"/>
<rect x="1385" y="283" width="1" height="48" fill="#f23645"/>
<rect x="1383" y="287" width="5" height="41" fill="#f23645"/>
<rect x="1391" y="297" width="1" height="36" fill="#089981"/>
<rect x="1389" y="316" width="5" height="12" fill="#089981"/>
<rect x="1398" y="301" width="1" height="28" fill="#089981"/>
<rect x="1396" y="313" width="5" height="5" fill="#089981"/>
<rect x="1405" y="271" width="1" height="49" fill="#089981"/>
<rect x="1403" y="310" width="5" height="4" fill="#089981"/>
<rect x="1411" y="286" width="1" height="45" fill="#089981"/>
<rect x="1409" y="287" width="5" height="24" fill="#089981"/>
<rect x="1418" y="230" width="1" height="61" fill="#089981"/>
<rect x="1416" y="251" width="5" height="36" fill="#089981"/>
<rect x="1424" y="236" width="1" height="17" fill="#089981"/>
<rect x="1422" y="241" width="5" height="12" fill="#089981"/>
<rect x="1431" y="205" width="1" height="39" fill="#089981"/>
<rect x="1429" y="206" width="5" height="36" fill="#089981"/>
<rect x="1438" y="187" width="1" height="33" fill="#f23645"/>
<rect x="1436" y="206" width="5" height="6" fill="#f23645"/>
<rect x="1444" y="200" width="1" height="28" fill="#f23645"/>
<rect x="1442" y="211" width="5" height="14" fill="#f23645"/>
<rect x="1451" y="185" width="1" height="41" fill="#089981"/>
<rect x="1449" y="185" width="5" height="41" fill="#089981"/>
<rect x="1458" y="122" width="1" height="63" fill="#089981"/>
<rect x="1456" y="143" width="5" height="42" fill="#089981"/>
<rect x="1464" y="96" width="1" height="55" fill="#089981"/>
<rect x="1462" y="98" width="5" height="47" fill="#089981"/>
<rect x="1471" y="93" width="1" height="21" fill="#f23645"/>
<rect x="1469" y="98" width="5" height="13" fill="#f23645"/>
<rect x="1477" y="102" width="1" height="27" fill="#089981"/>
<rect x="1475" y="107" width="5" height="4" fill="#089981"/>
<rect x="1484" y="62" width="1" height="49" fill="#089981"/>
<rect x="1482" y="84" width="5" height="24" fill="#089981"/>
<rect x="1491" y="82" width="1" height="45" fill="#f23645"/>
<rect x="1489" y="84" width="5" height="42" fill="#f23645"/>
<rect x="1497" y="118" width="1" height="34" fill="#f23645"/>
<rect x="1495" y="125" width="5" height="20" fill="#f23645"/>
<rect x="1504" y="126" width="1" height="23" fill="#089981"/>
<rect x="1502" y="132" width="5" height="13" fill="#089981"/>
<rect x="1511" y="131" width="1" height="29" fill="#f23645"/>
<rect x="1509" y="131" width="5" height="18" fill="#f23645"/>
<rect x="1517" y="128" width="1" height="39" fill="#f23645"/>
<rect x="1515" y="148" width="5" height="1" fill="#f23645"/>
<rect x="1524" y="144" width="1" height="40" fill="#f23645"/>
<rect x="1522" y="148" width="5" height="36" fill="#f23645"/>
<rect x="1530" y="166" width="1" height="18" fill="#089981"/>
<rect x="1528" y="173" width="5" height="11" fill="#089981"/>
<rect x="1537" y="160" width="1" height="51" fill="#f23645"/>
<rect x="1535" y="173" width="5" height="3" fill="#f23645"/>
<rect x="1544" y="174" width="1" height="28" fill="#f23645"/>
<rect x="1542" y="176" width="5" height="18" fill="#f23645"/>
<rect x="1550" y="175" width="1" height="27" fill="#089981"/>
<rect x="1548" y="180" width="5" height="15" fill="#089981"/>
<rect x="1557" y="176" width="1" height="85" fill="#f23645"/>
<rect x="1555" y="181" width="5" height="73" fill="#f23645"/>
<rect x="1564" y="190" width="1" height="84" fill="#089981"/>
<rect x="1562" y="212" width="5" height="43" fill="#089981"/>
<rect x="1570" y="205" width="1" height="67" fill="#f23645"/>
<rect x="1568" y="212" width="5" height="20" fill="#f23645"/>
<rect x="1577" y="213" width="1" height="82" fill="#f23645"/>
<rect x="1575" y="231" width="5" height="54" fill="#f23645"/>
<rect x="1583" y="256" width="1" height="34" fill="#f23645"/>
<rect x="1581" y="284" width="5" height="4" fill="#f23645"/>
</g>
<text x="1661.4" y="31.0" font-size="12" fill="#2a2e39" textLength="42" lengthAdjust="spacingAndGlyphs">1.31000</text>
<text x="1661.4" y="62.4" font-size="12" fill="#2a2e39" textLength="42" lengthAdjust="spacingAndGlyphs">1.30500</text>
<text x="1661.4" y="93.8" font-size="12" fill="#2a2e39" textLength="42" lengthAdjust="spacingAndGlyphs">1.30000</text>
<text x="1661.4" y="125.3" font-size="12" fill="#2a2e39" textLength="42" lengthAdjust="spacingAndGlyphs">1.29500</text>
<text x="1661.4" y="156.7" font-size="12" fill="#2a2e39" textLength="42" lengthAdjust="spacingAndGlyphs">1.29000</text>
<text x="1661.4" y="188.1" font-size="12" fill="#2a2e39" textLength="42" lengthAdjust="spacingAndGlyphs">1.28500</text>
<text x="1661.4" y="219.5" font-size="12" fill="#2a2e39" textLength="42" lengthAdjust="spacingAndGlyphs">1.28000</text>
<text x="1661.4" y="250.9" font-size="12" fill="#2a2e39" textLength="42" lengthAdjust="spacingAndGlyphs">1.27500</text>
<text x="1661.4" y="282.4" font-size="12" fill="#2a2e39" textLength="42" lengthAdjust="spacingAndGlyphs">1.27000</text>
<text x="1661.4" y="313.8" font-size="12" fill="#2a2e39" textLength="42" lengthAdjust="spacingAndGlyphs">1.26500</text>
<text x="1661.4" y="345.2" font-size="12" fill="#2a2e39" textLength="42" lengthAdjust="spacingAndGlyphs">1.26000</text>
<text x="1661.4" y="376.6" font-size="12" fill="#2a2e39" textLength="42" lengthAdjust="spacingAndGlyphs">1.25500</text>
<text x="1661.4" y="408.0" font-size="12" fill="#2a2e39" textLength="42" lengthAdjust="spacingAndGlyphs">1.25000</text>
<text x="1661.4" y="439.5" font-size="12" fill="#2a2e39" textLength="42" lengthAdjust="spacingAndGlyphs">1.24500</text>
<text x="1661.4" y="470.9" font-size="12" fill="#2a2e39" textLength="42" lengthAdjust="spacingAndGlyphs">1.24000</text>
<text x="1661.4" y="502.3" font-size="12" fill="#2a2e39" textLength="42" lengthAdjust="spacingAndGlyphs">1.23500</text>
<text x="1661.4" y="533.7" font-size="12" fill="#2a2e39" textLength="42" lengthAdjust="spacingAndGlyphs">1.23000</text>
<text x="1661.4" y="565.1" font-size="12" fill="#2a2e39" textLength="42" lengthAdjust="spacingAndGlyphs">1.22500</text>
<text x="1661.4" y="596.6" font-size="12" fill="#2a2e39" textLength="42" lengthAdjust="spacingAndGlyphs">1.22000</text>
<text x="1661.4" y="628.0" font-size="12" fill="#2a2e39" textLength="42" lengthAdjust="spacingAndGlyphs">1.21500</text>
<text x="1661.4" y="659.4" font-size="12" fill="#2a2e39" textLength="42" lengthAdjust="spacingAndGlyphs">1.21000</text>
<text x="1661.4" y="690.8" font-size="12" fill="#2a2e39" textLength="42" lengthAdjust="spacingAndGlyphs">1.20500</text>
<text x="1661.4" y="722.2" font-size="12" fill="#2a2e39" textLength="42" lengthAdjust="spacingAndGlyphs">1.20000</text>
<text x="1661.4" y="753.7" font-size="12" fill="#2a2e39" textLength="42" lengthAdjust="spacingAndGlyphs">1.19500</text>
<path d="M1653,219 h54 a2,2 0 0 1 2,2 v13 a2,2 0 0 1 -2,2 h-54 z" fill="#2196f3"/>
<text x="1661.2" y="231.9" font-size="12" font-weight="bold" fill="#fff" textLength="42.2" lengthAdjust="spacingAndGlyphs">1.27819</text>
<path d="M1653,279 h54 a2,2 0 0 1 2,2 v13 a2,2 0 0 1 -2,2 h-54 z" fill="#f23645"/>
<text x="1661.2" y="291.9" font-size="12" font-weight="bold" fill="#fff" textLength="42.2" lengthAdjust="spacingAndGlyphs">1.26857</text>
<path d="M1653,304 h54 a2,2 0 0 1 2,2 v13 a2,2 0 0 1 -2,2 h-54 z" fill="#000000"/>
<text x="1661.2" y="316.9" font-size="12" font-weight="bold" fill="#fff" textLength="42.2" lengthAdjust="spacingAndGlyphs">1.26470</text>
<text x="112.8" y="790" font-size="12" fill="#2a2e39" text-anchor="middle">Oct</text>
<text x="258.8" y="790" font-size="12" fill="#2a2e39" text-anchor="middle">Nov</text>
<text x="403.8" y="790" font-size="12" fill="#2a2e39" text-anchor="middle">Dec</text>
<text x="543.8" y="790" font-size="12" fill="#2a2e39" text-anchor="middle" font-weight="bold">2024</text>
<text x="695.8" y="790" font-size="12" fill="#2a2e39" text-anchor="middle">Feb</text>
<text x="834.8" y="790" font-size="12" fill="#2a2e39" text-anchor="middle">Mar</text>
<text x="973.8" y="790" font-size="12" fill="#2a2e39" text-anchor="middle">Apr</text>
<text x="1119.8" y="790" font-size="12" fill="#2a2e39" text-anchor="middle">May</text>
<text x="1271.8" y="790" font-size="12" fill="#2a2e39" text-anchor="middle">Jun</text>
<text x="1404.8" y="790" font-size="12" fill="#2a2e39" text-anchor="middle">Jul</text>
<text x="1556.8" y="790" font-size="12" fill="#2a2e39" text-anchor="middle">Aug</text>
<text x="1642.8" y="790" font-size="12" fill="#2a2e39" text-anchor="middle">18</text>
<text x="18.1" y="29.2" font-size="12" fill="#2a2e39" textLength="97.6" lengthAdjust="spacingAndGlyphs">GBP/USD Spot, 1D</text>
<text x="123.0" y="29.2" font-size="12" fill="#2a2e39" textLength="8.6" lengthAdjust="spacingAndGlyphs">O</text>
<text x="132.1" y="29.2" font-size="12" fill="#f23645" textLength="40.7" lengthAdjust="spacingAndGlyphs">1.26911</text>
<text x="180.1" y="29.2" font-size="12" fill="#2a2e39" textLength="8.5" lengthAdjust="spacingAndGlyphs">H</text>
<text x="189.2" y="29.2" font-size="12" fill="#f23645" textLength="41.4" lengthAdjust="spacingAndGlyphs">1.27360</text>
<text x="237.8" y="29.2" font-size="12" fill="#2a2e39" textLength="6.6" lengthAdjust="spacingAndGlyphs">L</text>
<text x="244.2" y="29.2" font-size="12" fill="#f23645" textLength="41.0" lengthAdjust="spacingAndGlyphs">1.26811</text>
<text x="292.9" y="29.2" font-size="12" fill="#2a2e39" textLength="8.6" lengthAdjust="spacingAndGlyphs">C</text>
<text x="301.6" y="29.2" font-size="12" fill="#f23645" textLength="40.4" lengthAdjust="spacingAndGlyphs">1.26857</text>
<text x="350.3" y="29.2" font-size="12" fill="#f23645" textLength="96.5" lengthAdjust="spacingAndGlyphs">−0.00058 (−0.05%)</text>
<text x="18.1" y="45.9" font-size="12" fill="#2a2e39" textLength="96.2" lengthAdjust="spacingAndGlyphs">EMA (50, close, 0)</text>
<text x="122.0" y="45.9" font-size="12" fill="#2196f3" textLength="42.4" lengthAdjust="spacingAndGlyphs">1.27819</text>
<text x="18.1" y="62.5" font-size="12" fill="#2a2e39" textLength="102.4" lengthAdjust="spacingAndGlyphs">EMA (200, close, 0)</text>
<text x="128.6" y="62.5" font-size="12" fill="#2a2e39" textLength="41.8" lengthAdjust="spacingAndGlyphs">1.26470</text>
<g fill="#2a2e39" shape-rendering="auto"><path d="M10,812.2 H18.1 V821.6 H14 V816 H10 Z"/><circle cx="21.1" cy="814.1" r="2.1"/><path d="M25.1,812.2 H29.9 L26,821.6 H21.1 Z"/></g>
<text x="32.6" y="821.6" font-size="12.5" fill="#2a2e39" textLength="70.8" lengthAdjust="spacingAndGlyphs">TradingView</text>
</svg></body></html>
